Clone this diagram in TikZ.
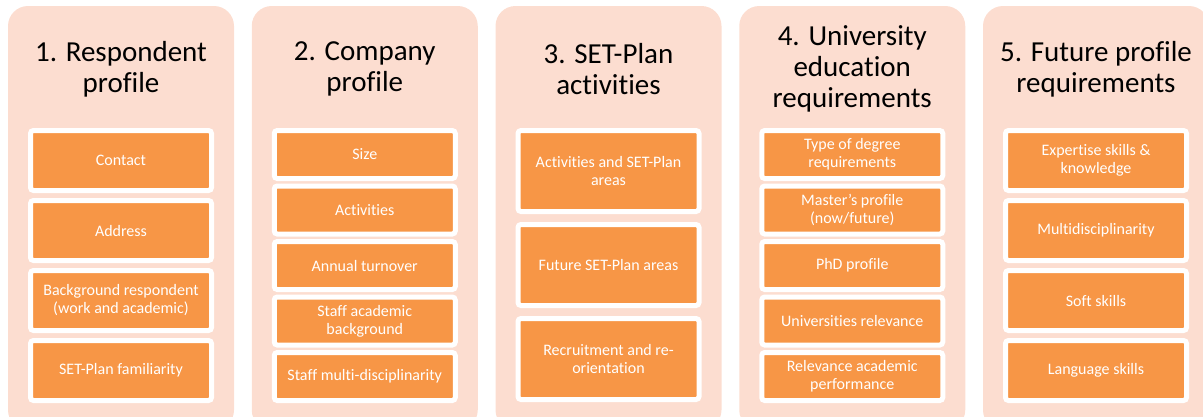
\documentclass[tikz,border=0pt]{standalone}
\usepackage{fontspec}
\setmainfont{Carlito}[Ligatures=NoCommon]
\definecolor{peach}{RGB}{252,221,208}
\definecolor{orng}{RGB}{247,150,70}
\tikzset{
  panel/.style={fill=peach,rounded corners=20pt,minimum width=226pt,minimum height=424pt,inner sep=0pt,outer sep=0pt},
  title/.style={align=center,font=\fontsize{29}{31}\selectfont},
  item/.style={fill=orng,draw=white,line width=5pt,rounded corners=3pt,text=white,align=center,
    font=\fontsize{16}{18}\selectfont,minimum width=181pt,inner sep=0pt,outer sep=0pt},
  three/.style={item,minimum height=81pt},
  four/.style={item,minimum height=60pt},
  five/.style={item,minimum height=48pt}
}
\begin{document}
\begin{tikzpicture}[x=1pt,y=-1pt]
      \clip (0,0) rectangle (1203,416);
      \draw
        (121,218) node[panel] (p1){}
        (364.75,218) node[panel] (p2){}
        (608.5,218) node[panel] (p3){}
        (852.25,218) node[panel] (p4){}
        (1096,218) node[panel] (p5){};
      % titles
      \draw
        (121,69) node[title] (t1){1. Respondent\\profile}
        (364.75,69) node[title] (t2){2. Company\\profile}
        (608.5,69) node[title] (t3){3. SET-Plan\\activities}
        (852.25,69) node[title] (t4){4. University\\education\\requirements}
        (1096,69) node[title] (t5){5. Future profile\\requirements};
      % respondent profile
      \draw
        (121,160.5) node[four] (p1a){Contact}
        (121,230.5) node[four] (p1b){Address}
        (121,300.5) node[four] (p1c){Background respondent\\(work and academic)}
        (121,370.5) node[four] (p1d){SET-Plan familiarity};
      % company profile
      \draw
        (364.75,154.5) node[five] (p2a){Size}
        (364.75,210) node[five] (p2b){Activities}
        (364.75,265.5) node[five] (p2c){Annual turnover}
        (364.75,321) node[five] (p2d){Staff academic\\background}
        (364.75,376.5) node[five] (p2e){Staff multi-disciplinarity};
      % set-plan activities
      \draw
        (608.5,171) node[three] (p3a){Activities and SET-Plan\\areas}
        (608.5,265) node[three] (p3b){Future SET-Plan areas}
        (608.5,359) node[three] (p3c){Recruitment and re-\\orientation};
      % university education
      \draw
        (852.25,154.5) node[five] (p4a){Type of degree\\requirements}
        (852.25,210) node[five] (p4b){Master’s profile\\(now/future)}
        (852.25,265.5) node[five] (p4c){PhD profile}
        (852.25,321) node[five] (p4d){Universities relevance}
        (852.25,376.5) node[five] (p4e){Relevance academic\\performance};
      % future profile
      \draw
        (1096,160.5) node[four] (p5a){Expertise skills \&\\knowledge}
        (1096,230.5) node[four] (p5b){Multidisciplinarity}
        (1096,300.5) node[four] (p5c){Soft skills}
        (1096,370.5) node[four] (p5d){Language skills};
    \end{tikzpicture}
\end{document}
